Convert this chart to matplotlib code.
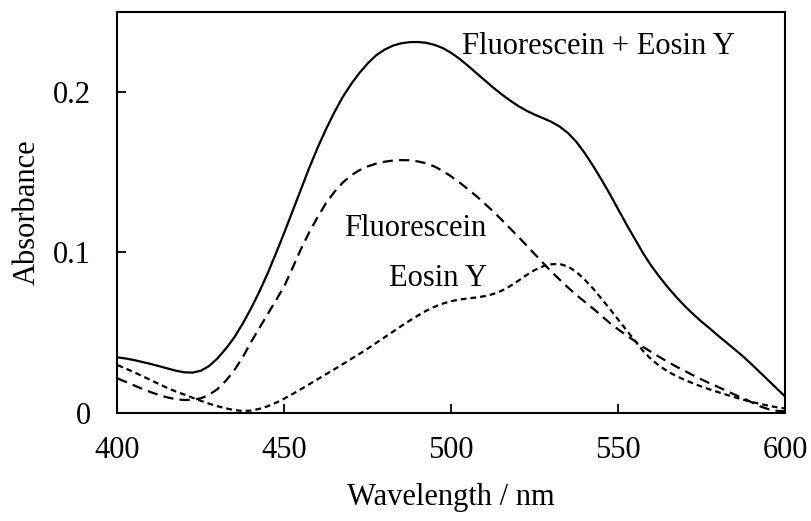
import matplotlib
matplotlib.use("Agg")
import matplotlib.pyplot as plt
import numpy as np

plt.rcParams['font.family'] = ['Liberation Serif', 'DejaVu Serif']
plt.rcParams['font.size'] = 22

# Wavelength grid (nm), 2.5 nm steps
wavelength = np.arange(400, 600.1, 2.5)

# Absorbance
mix = [0.0345, 0.0338, 0.0328, 0.0316, 0.0304, 0.0290, 0.0276, 0.0262, 0.0252, 0.0250,
       0.0262, 0.0292, 0.0340, 0.0400, 0.0470, 0.0555, 0.0650, 0.0755, 0.0870, 0.0995,
       0.1125, 0.1260, 0.1395, 0.1530, 0.1655, 0.1770, 0.1875, 0.1970, 0.2050, 0.2120,
       0.2180, 0.2230, 0.2265, 0.2290, 0.2305, 0.2312, 0.2313, 0.2308, 0.2295, 0.2275,
       0.2245, 0.2208, 0.2165, 0.2120, 0.2075, 0.2030, 0.1988, 0.1950, 0.1915, 0.1885,
       0.1860, 0.1838, 0.1815, 0.1785, 0.1745, 0.1690, 0.1620, 0.1540, 0.1455, 0.1365,
       0.1270, 0.1175, 0.1085, 0.0995, 0.0915, 0.0845, 0.0780, 0.0720, 0.0665, 0.0615,
       0.0568, 0.0525, 0.0480, 0.0437, 0.0394, 0.0350, 0.0302, 0.0252, 0.0202, 0.0152,
       0.0102]

fluorescein = [0.0214, 0.0192, 0.0170, 0.0148, 0.0128, 0.0110, 0.0095, 0.0084, 0.0079, 0.0080,
               0.0090, 0.0112, 0.0148, 0.0200, 0.0265, 0.0345, 0.0440, 0.0528, 0.0615, 0.0702,
               0.0790, 0.0905, 0.1022, 0.1128, 0.1222, 0.1308, 0.1378, 0.1436, 0.1481, 0.1513,
               0.1537, 0.1554, 0.1566, 0.1573, 0.1576, 0.1575, 0.1568, 0.1556, 0.1536, 0.1508,
               0.1474, 0.1436, 0.1395, 0.1352, 0.1306, 0.1257, 0.1206, 0.1153, 0.1100, 0.1045,
               0.0990, 0.0935, 0.0880, 0.0830, 0.0781, 0.0734, 0.0692, 0.0650, 0.0605, 0.0560,
               0.0520, 0.0483, 0.0447, 0.0410, 0.0378, 0.0346, 0.0316, 0.0287, 0.0260, 0.0233,
               0.0207, 0.0183, 0.0160, 0.0136, 0.0112, 0.0090, 0.0065, 0.0040, 0.0022, 0.0012,
               0.0008]

eosin = [0.0297, 0.0275, 0.0252, 0.0228, 0.0203, 0.0178, 0.0154, 0.0132, 0.0113, 0.0093,
         0.0074, 0.0056, 0.0040, 0.0027, 0.0016, 0.0011, 0.0013, 0.0024, 0.0040, 0.0062,
         0.0088, 0.0117, 0.0147, 0.0178, 0.0209, 0.0240, 0.0271, 0.0303, 0.0335, 0.0367,
         0.0400, 0.0435, 0.0470, 0.0505, 0.0540, 0.0574, 0.0606, 0.0636, 0.0661, 0.0681,
         0.0696, 0.0706, 0.0713, 0.0719, 0.0727, 0.0740, 0.0760, 0.0788, 0.0822, 0.0858,
         0.0890, 0.0913, 0.0926, 0.0928, 0.0912, 0.0878, 0.0830, 0.0775, 0.0712, 0.0648,
         0.0582, 0.0515, 0.0450, 0.0385, 0.0332, 0.0290, 0.0256, 0.0228, 0.0204, 0.0183,
         0.0163, 0.0145, 0.0128, 0.0112, 0.0096, 0.0081, 0.0067, 0.0055, 0.0044, 0.0034,
         0.0026]

fig = plt.figure(figsize=(8.12, 5.21), dpi=100)
ax = fig.add_axes([0.1447, 0.2079, 0.822, 0.769])

ax.plot(wavelength, mix, color='black', lw=1.6)
ax.plot(wavelength, fluorescein, color='black', lw=1.6, dashes=(4.6, 2.8))
ax.plot(wavelength, eosin, color='black', lw=1.6, dashes=(2.6, 1.8))

ax.text(503.1, 0.2239, "Fluorescein + Eosin Y", ha='left', va='baseline')
ax.text(510.6, 0.1101, "Fluorescein", ha='right', va='baseline')
ax.text(510.6, 0.0789, "Eosin Y", ha='right', va='baseline')

ax.set_xlim(400, 600)
ax.set_ylim(0, 0.25)
ax.set_xticks([400, 450, 500, 550, 600])
ax.set_yticks([0, 0.1, 0.2])
ax.set_yticklabels(["0", "0.1", "0.2"])
ax.tick_params(direction='in', length=6.5, width=1.3, top=False, right=False)
ax.tick_params(axis='x', pad=17)
ax.tick_params(axis='y', pad=19)
for s in ax.spines.values():
    s.set_linewidth(1.5)

ax.set_xlabel("Wavelength / nm", labelpad=13)
ax.set_ylabel("Absorbance", labelpad=8)

fig.savefig("out.png", dpi=100)
